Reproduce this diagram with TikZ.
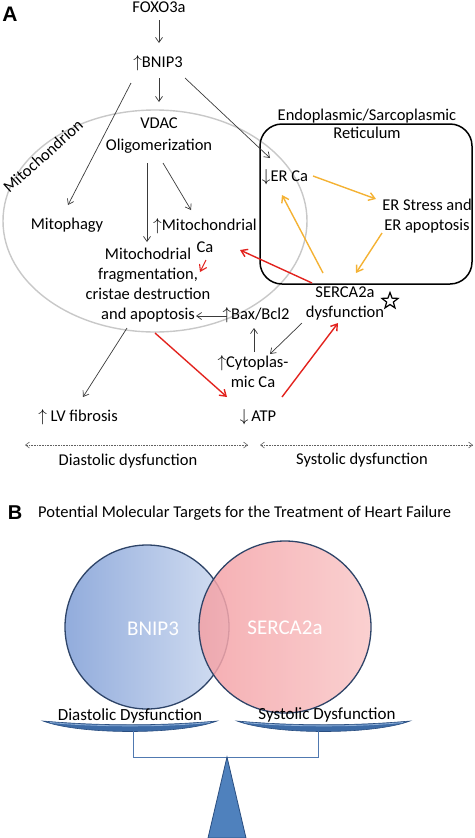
\documentclass[tikz,border=0pt]{standalone}
\usepackage{fontspec}
\setmainfont{Carlito}
\newfontfamily\lblfont{Liberation Sans}
\usetikzlibrary{arrows.meta,calc,shapes.geometric}
\definecolor{garr}{HTML}{3A3A3A}
\definecolor{rarr}{HTML}{E2231E}
\definecolor{yarr}{HTML}{F4B234}
\definecolor{mitog}{HTML}{C8C8C8}
\definecolor{cblueL}{RGB}{146,172,220}
\definecolor{cblueR}{RGB}{212,223,242}
\definecolor{cpinkL}{RGB}{244,160,165}
\definecolor{cpinkR}{RGB}{249,200,200}
\definecolor{circline}{HTML}{2E4468}
\definecolor{panfill}{HTML}{3D6BA6}
\definecolor{panline}{HTML}{2A4E80}
\definecolor{panrim}{HTML}{8FB0D8}
\definecolor{brk}{HTML}{5079B0}
\definecolor{trifill}{HTML}{4F81BD}
\begin{document}
\begin{tikzpicture}[x=1pt,y=-1pt,
  txt/.style={inner sep=1pt,align=center,font=\fontsize{16.5}{20}\selectfont},
  garrow/.style={draw=garr,line width=0.7pt,-{Straight Barb[length=5pt,width=7pt]}},
  rarrow/.style={draw=rarr,line width=1.4pt,-{Straight Barb[length=6pt,width=8pt]}},
  yarrow/.style={draw=yarr,line width=1.4pt,-{Straight Barb[length=6pt,width=8pt]}},
  dotarrow/.style={draw=garr!80,line width=0.6pt,densely dotted,{Straight Barb[length=4pt,width=6pt]}-{Straight Barb[length=4pt,width=6pt]}},
  vennlbl/.style={text=white,text opacity=1,font=\fontsize{21}{24}\selectfont},
  scalelbl/.style={inner sep=1pt,font=\fontsize{17}{20}\selectfont},
  pan/.style={fill=panfill,draw=panline,line width=0.6pt}]
\useasboundingbox (0,0) rectangle (474,838);

% ---------- Panel A ----------
\node[font=\lblfont\bfseries\fontsize{21}{24}\selectfont,inner sep=0pt] (labA) at (10,14) {A};

\draw[mitog,line width=1.4pt] (155,221) ellipse [x radius=152, y radius=111];
\node[draw,line width=1.5pt,rounded corners=22pt,minimum width=212pt,minimum height=160pt,inner sep=0pt] (er) at (366,204) {};

\node[txt] (foxo) at (159,7) {FOXO3a};
\node[txt] (bnip) at (158,63) {$\uparrow$BNIP3};
\node[txt,font=\fontsize{16.5}{22}\selectfont] (vdac) at (159,136) {VDAC\\Oligomerization};
\node[txt] (mitophagy) at (67,225) {Mitophagy};
\node[txt,font=\fontsize{16.5}{22}\selectfont] (mitoca) at (205,236) {$\uparrow$Mitochondrial\\Ca};
\node[txt] (frag) at (148,285) {Mitochodrial\\fragmentation,\\cristae destruction\\and apoptosis};
\node[txt] (bax) at (256,315) {$\uparrow$Bax/Bcl2};
\node[txt] (cyto) at (253,372) {$\uparrow$Cytoplas-\\mic Ca};
\node[txt] (atp) at (258,417) {$\downarrow$\,ATP};
\node[txt] (lv) at (78,417) {$\uparrow$ LV fibrosis};
\node[txt] (erca) at (285,177) {$\downarrow$ER Ca};
\node[txt] (erstress) at (427,216) {ER Stress and\\ER apoptosis};
\node[txt] (serca) at (345,303) {SERCA2a\\dysfunction};
\node[draw,star,star points=5,star point ratio=2.4,line width=1.2pt,minimum size=17pt,inner sep=0pt] (star) at (390,301) {};
\node[txt,font=\fontsize{16.5}{18}\selectfont] (ertitle) at (367,124) {Endoplasmic/Sarcoplasmic\\Reticulum};
\node[txt,rotate=42] (mitolbl) at (43,156) {Mitochondrion};
\node[txt] (diast) at (128,461) {Diastolic dysfunction};
\node[txt] (syst) at (362,460) {Systolic dysfunction};

% gray arrows
\draw[garrow] ($(foxo)+(0,13)$) -- ($(bnip)+(1,-20)$);
\draw[garrow] ($(bnip)+(1,15)$) -- ($(vdac)+(0,-34)$);
\draw[garrow] ($(bnip)+(-27,20)$) -- ($(mitophagy)+(1,-20)$);
\draw[garrow] ($(bnip)+(27,15)$) -- ($(erca)+(-15,-19)$);
\draw[garrow] ($(vdac)+(-12,27)$) -- ($(frag)+(-1,-43)$);
\draw[garrow] ($(vdac)+(4,27)$) -- ($(mitoca)+(-14,-26)$);
\draw[garrow] ($(bax)+(-29,1)$) -- ($(frag)+(48,31)$);
\draw[garrow] ($(serca)+(-43,20)$) -- ($(cyto)+(17,-18)$);
\draw[garrow] ($(cyto)+(1,-20)$) -- ($(bax)+(-2,13)$);
\draw[garrow] ($(frag)+(-21,43)$) -- ($(lv)+(5,-20)$);
% red arrows
\draw[rarrow,line width=1.1pt] ($(mitoca)+(1,24)$) -- ($(frag)+(52,-13)$);
\draw[rarrow] ($(serca)+(-33,-20)$) -- ($(mitoca)+(35,14)$);
\draw[rarrow] ($(frag)+(7,48)$) -- ($(atp)+(-31,-20)$);
\draw[rarrow] ($(atp)+(24,-20)$) -- ($(serca)+(-7,20)$);
% yellow arrows
\draw[yarrow] ($(erca)+(28,-1)$) -- ($(erstress)+(-51,-17)$);
\draw[yarrow] ($(erstress)+(-45,17)$) -- ($(serca)+(11,-30)$);
\draw[yarrow] ($(serca)+(-22,-30)$) -- ($(erca)+(-3,18)$);
% dotted range arrows
\coordinate (dl1) at (25,445);
\coordinate (dl2) at (248,445);
\coordinate (dr1) at (260,445);
\coordinate (dr2) at (473,445);
\draw[dotarrow] (dl1) -- (dl2);
\draw[dotarrow] (dr1) -- (dr2);

% ---------- Panel B ----------
\node[font=\lblfont\bfseries\fontsize{20}{22}\selectfont,inner sep=0pt] (labB) at (15,513) {B};
\node[txt,anchor=west] (titleB) at (37,513) {Potential Molecular Targets for the Treatment of Heart Failure};

\node[circle,draw=circline,line width=1.3pt,minimum size=164pt,inner sep=0pt,
      left color=cblueL,right color=cblueR] (cbnip) at (147,627) {};
\node[circle,draw=circline,line width=1.3pt,minimum size=172pt,inner sep=0pt,
      left color=cpinkL,right color=cpinkR,fill opacity=0.85,draw opacity=1] (cserca) at (285,627) {};
\node[vennlbl] (tbnip) at (153,629) {BNIP3};
\node[vennlbl] (tserca) at (285,628) {SERCA2a};

% pans
\filldraw[pan]
  (43,721) .. controls (100,726) and (160,726) .. (217,721)
  .. controls (180,735) and (80,735) .. cycle;
\draw[panrim,line width=0.8pt] (50,722.5) .. controls (100,727) and (160,727) .. (210,722.5);
\filldraw[pan]
  (237,721) .. controls (294,726) and (354,726) .. (410,721)
  .. controls (373,735) and (274,735) .. cycle;
\draw[panrim,line width=0.8pt] (244,722.5) .. controls (294,727) and (354,727) .. (403,722.5);
\node[scalelbl] (tdiast) at (130,716) {Diastolic Dysfunction};
\node[scalelbl] (tsyst) at (327,715) {Systolic Dysfunction};

% beam
\draw[brk,line width=1pt] (133,731) -- (133,757) -- (318,757) -- (318,731);
% fulcrum
\filldraw[fill=trifill,draw=panline,line width=0.8pt] (227,757) -- (208,838) -- (246,838) -- cycle;
\end{tikzpicture}
\end{document}
